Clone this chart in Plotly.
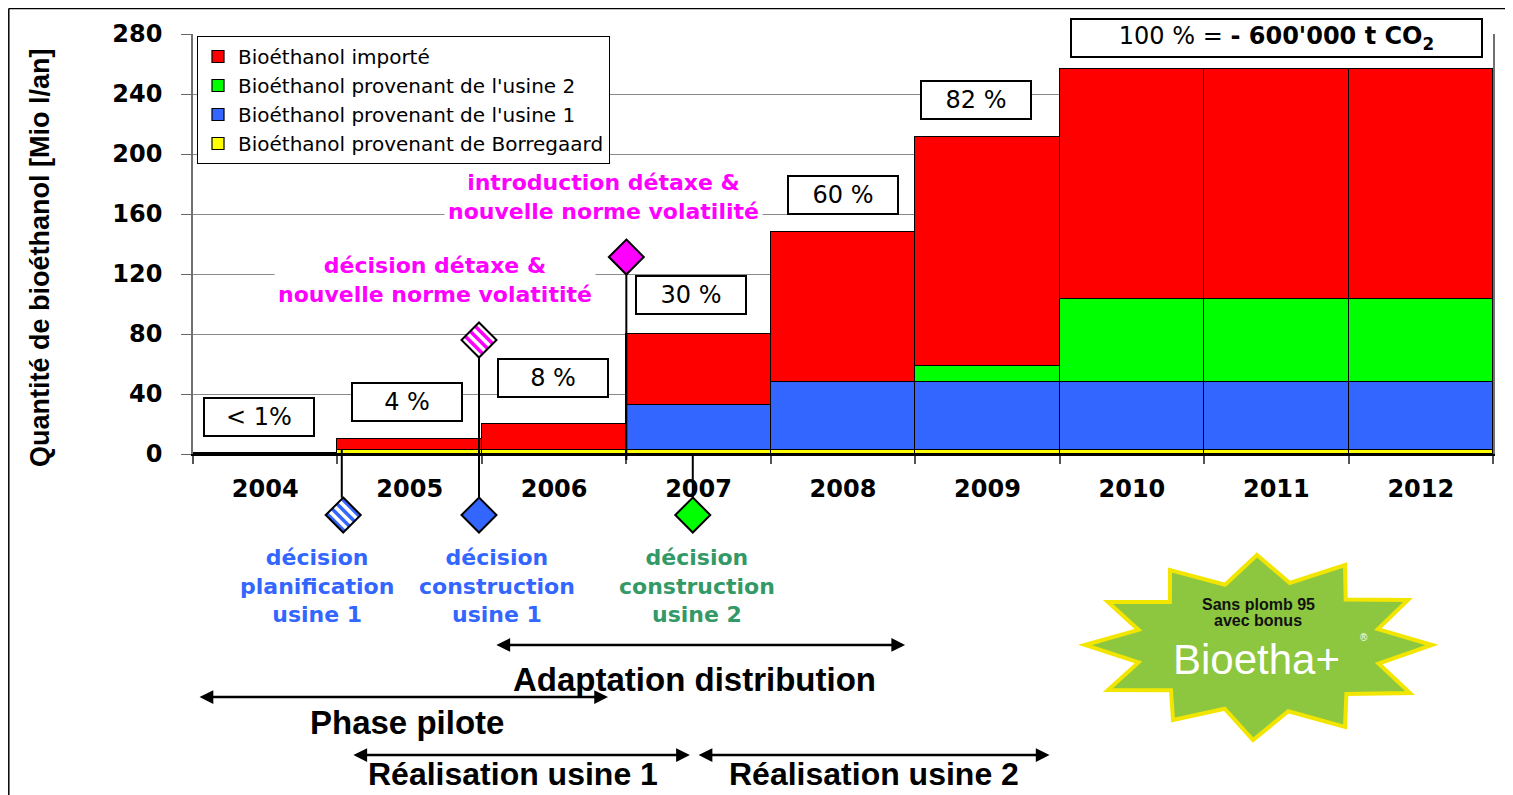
import plotly.graph_objects as go

# ---------------- data ----------------
years = [2004, 2005, 2006, 2007, 2008, 2009, 2010, 2011, 2012]
borregaard = [0.7, 3, 3, 3, 3, 3, 3, 3, 3]
usine1 = [None, None, None, 29.5, 45, 45, 45, 45, 45]
usine2 = [None, None, None, None, None, 10.5, 55.5, 55.5, 55.5]
importe = [None, 7, 17, 47.5, 100, 153, 153, 153, 153]

series = [
    ("Bioéthanol provenant de Borregaard", borregaard, "#FFFF00"),
    ("Bioéthanol provenant de l'usine 1", usine1, "#3366FF"),
    ("Bioéthanol provenant de l'usine 2", usine2, "#00FF00"),
    ("Bioéthanol importé", importe, "#FF0000"),
]

pct_labels = ["< 1%", "4 %", "8 %", "30 %", "60 %", "82 %"]
y_ticks = [0, 40, 80, 120, 160, 200, 240, 280]

# events (x in years, y in Mio l/an)
event_x = [2004.54, 2005.48, 2005.48, 2006.5, 2006.96]
event_y = [-40.7, 76, -40.7, 131.3, -40.7]
event_col = ["#3366FF", "#FF00FF", "#3366FF", "#FF00FF", "#00FF00"]
event_striped = [True, True, False, False, False]

# ---------------- geometry helpers ----------------
OFF = 8  # page body margin
X0, X1 = 2003.5, 2012.5
Y0, Y1 = 0, 280
W, H = 1505, 787
L_M, R_M, T_M, B_M = 185, 20, 26, 341
PW, PH = W - L_M - R_M, H - T_M - B_M


def xp(x):
    return (x - X0) / (X1 - X0)


def yp(y):
    return (y - Y0) / (Y1 - Y0)


def pxx(px):
    return (px - OFF - L_M) / PW


def pxy(py):
    return (H - B_M - (py - OFF)) / PH


fig = go.Figure()
for name, vals, col in series:
    fig.add_trace(go.Bar(
        x=years, y=vals, name=name, width=1,
        marker=dict(color=col, line=dict(color="black", width=1.2)),
    ))

shapes = []
annotations = []

# outer frame
shapes.append(dict(type="line", xref="paper", yref="paper", x0=pxx(8.8), x1=pxx(W + OFF), y0=pxy(8.6), y1=pxy(8.6),
                   line=dict(color="black", width=1.5)))
shapes.append(dict(type="line", xref="paper", yref="paper", x0=pxx(8.8), x1=pxx(8.8), y0=pxy(8.6), y1=pxy(H + OFF),
                   line=dict(color="black", width=1.5)))

# event vertical lines
d = 11.5
for x, ya, yb in [(2004.53, 3, -40.7 + d), (2005.48, 76 - d, -40.7 + d),
                  (2006.5, 131.3 - d, -4), (2006.96, 0, -40.7 + d)]:
    shapes.append(dict(type="line", xref="paper", yref="paper", x0=xp(x), x1=xp(x), y0=yp(ya), y1=yp(yb),
                       line=dict(color="black", width=2), layer="above"))


def diamond(x, y, color, striped, n=7, h=17.5):
    T, R, Lp = (0, h), (h, 0), (-h, 0)

    def P(a, b):
        return (T[0] + a * (Lp[0] - T[0]) + b * (R[0] - T[0]),
                T[1] + a * (Lp[1] - T[1]) + b * (R[1] - T[1]))

    base = dict(type="path", xref="paper", yref="paper", xsizemode="pixel", ysizemode="pixel",
                xanchor=xp(x), yanchor=yp(y), layer="above")
    out = []
    diam = f"M 0,{h} L {h},0 L 0,{-h} L {-h},0 Z"
    if not striped:
        out.append(dict(base, path=diam, fillcolor=color, line=dict(color="black", width=2)))
        return out
    out.append(dict(base, path=diam, fillcolor="white", line=dict(width=0)))
    colored = {0, 2, 4, 6} if color == "#3366FF" else {1, 3, 5}
    for k in range(n):
        if k not in colored:
            continue
        a0, a1 = k / n, (k + 1) / n
        pts = [P(a0, 0), P(a0, 1), P(a1, 1), P(a1, 0)]
        pth = "M " + " L ".join(f"{px:.2f},{py:.2f}" for px, py in pts) + " Z"
        out.append(dict(base, path=pth, fillcolor=color, line=dict(width=0)))
    out.append(dict(base, path=diam, fillcolor="rgba(0,0,0,0)", line=dict(color="black", width=2)))
    return out


for x, y, c, s in zip(event_x, event_y, event_col, event_striped):
    shapes += diamond(x, y, c, s)

# percentage boxes
pct_pos = [(2003.96, 24.7), (2004.98, 34.7), (2005.99, 50.7), (2006.95, 106), (2008.0, 172.7), (2008.92, 236)]
for lab, (x, y) in zip(pct_labels, pct_pos):
    annotations.append(dict(x=x, y=y, xref="x", yref="y", text=lab, showarrow=False,
                            font=dict(family="DejaVu Sans", size=24, color="black"),
                            bgcolor="white", bordercolor="black", borderwidth=2, borderpad=1,
                            width=106, height=34))
annotations.append(dict(x=2011.0, y=277.3, xref="x", yref="y",
                        text="100 % = <b>- 600'000 t CO<sub>2</sub></b>", showarrow=False,
                        font=dict(family="DejaVu Sans", size=24, color="black"),
                        bgcolor="white", bordercolor="black", borderwidth=2, borderpad=1,
                        width=407, height=34))

# magenta texts
mag = dict(family="DejaVu Sans", size=22, color="#FF00FF", weight="bold")
annotations.append(dict(x=2005.175, y=116, xref="x", yref="y", showarrow=False, bgcolor="white",
                        text="décision détaxe &<br>nouvelle norme volatitité", font=mag, borderpad=3))
annotations.append(dict(x=2006.345, y=171.3, xref="x", yref="y", showarrow=False, bgcolor="white",
                        text="introduction détaxe &<br>nouvelle norme volatilité", font=mag, borderpad=3))

# decision labels (below the axis -> paper coordinates)
for x, txt, col in [(2004.36, "décision<br>planification<br>usine 1", "#3366FF"),
                    (2005.605, "décision<br>construction<br>usine 1", "#3366FF"),
                    (2006.99, "décision<br>construction<br>usine 2", "#339966")]:
    annotations.append(dict(x=xp(x), y=yp(-88), xref="paper", yref="paper", showarrow=False, text=txt,
                            xanchor="center", yanchor="middle",
                            font=dict(family="DejaVu Sans", size=22, color=col, weight="bold")))

# phase arrows
for (xa, xb, ya) in [(2005.59, 2008.43, -127.3), (2003.535, 2006.373, -162),
                     (2004.60, 2006.94, -200.7), (2006.99, 2009.43, -200.7)]:
    annotations.append(dict(x=xp(xb), y=yp(ya), xref="paper", yref="paper",
                            ax=-(xb - xa) * PW / (X1 - X0), ay=0, axref="pixel", ayref="pixel",
                            text="", showarrow=True, arrowhead=2, arrowside="end+start",
                            arrowsize=1.1, arrowwidth=2.5, arrowcolor="black", standoff=0, startstandoff=0))
for x, y, txt, fs in [(2006.975, -150, "Adaptation distribution", 33), (2004.98, -178.7, "Phase pilote", 33),
                      (2005.715, -213.3, "Réalisation usine 1", 32), (2008.215, -213.3, "Réalisation usine 2", 32)]:
    annotations.append(dict(x=xp(x), y=yp(y), xref="paper", yref="paper", showarrow=False, text=txt,
                            xanchor="center", yanchor="middle",
                            font=dict(family="Liberation Sans", size=fs, color="black", weight="bold")))

# y-axis title
annotations.append(dict(x=pxx(40), y=pxy(258), xref="paper", yref="paper", showarrow=False, textangle=-90,
                        text="Quantité de bioéthanol [Mio l/an]", xanchor="center", yanchor="middle",
                        font=dict(family="Liberation Sans", size=27, color="black", weight="bold")))

# logo (Bioetha+ starburst)
outer = [(-1, 93), (87, 83), (150, 48), (174, 3), (152, -45), (87, -79), (-5, -92),
         (-85, -72), (-150, -42), (-173, 3), (-150, 46), (-88, 78)]
pts = []
for i, p in enumerate(outer):
    q = outer[(i + 1) % len(outer)]
    pts.append(p)
    pts.append(((p[0] + q[0]) / 2 * 0.74, (p[1] + q[1]) / 2 * 0.74))
star = "M " + " L ".join(f"{a:.1f},{b:.1f}" for a, b in pts) + " Z"
shapes.append(dict(type="path", xref="paper", yref="paper", xsizemode="pixel", ysizemode="pixel",
                   xanchor=pxx(1258), yanchor=pxy(648), path=star, fillcolor="#8DC63F",
                   line=dict(color="#F2E600", width=4), layer="above"))
for txt, yy in [("Sans plomb 95", 604), ("avec bonus", 620)]:
    annotations.append(dict(x=pxx(1258), y=pxy(yy), xref="paper", yref="paper", showarrow=False,
                            xanchor="center", yanchor="middle", text=txt,
                            font=dict(family="Liberation Sans", size=16, color="#111111", weight="bold")))
annotations.append(dict(x=pxx(1256), y=pxy(659), xref="paper", yref="paper", showarrow=False,
                        xanchor="center", yanchor="middle",
                        text="Bioetha+", font=dict(family="Liberation Sans", size=42, color="white")))
annotations.append(dict(x=pxx(1364), y=pxy(637), xref="paper", yref="paper", showarrow=False,
                        xanchor="center", yanchor="middle",
                        text="®", font=dict(family="Liberation Sans", size=10, color="white")))

fig.update_layout(
    width=W, height=H, autosize=False,
    margin=dict(l=L_M, r=R_M, t=T_M, b=B_M),
    paper_bgcolor="white", plot_bgcolor="white",
    barmode="stack", bargap=0,
    showlegend=True,
    legend=dict(x=pxx(197), y=pxy(36), xanchor="left", yanchor="top", traceorder="reversed",
                bgcolor="white", bordercolor="black", borderwidth=1,
                font=dict(family="DejaVu Sans", size=20, color="black"), tracegroupgap=0),
    xaxis=dict(range=[X0, X1], tickvals=years, ticktext=[str(y) for y in years], ticks="",
               tickfont=dict(family="DejaVu Sans", size=24, color="black", weight="bold"),
               ticklabelstandoff=12, showgrid=False, zeroline=False,
               showline=True, linecolor="black", linewidth=2,
               minor=dict(tickvals=[y - 0.5 for y in years] + [years[-1] + 0.5], ticks="outside",
                          ticklen=8, tickcolor="#555555", tickwidth=1.5, showgrid=False)),
    yaxis=dict(range=[Y0, Y1], tickvals=y_ticks, ticks="outside", ticklen=10, tickcolor="#666666",
               tickfont=dict(family="DejaVu Sans", size=24, color="black", weight="bold"),
               ticklabelstandoff=14, showgrid=True, gridcolor="#8a8a8a", gridwidth=1,
               zeroline=False, showline=True, linecolor="#707070", linewidth=1.5, mirror=True),
    shapes=shapes, annotations=annotations,
)

fig.write_html("out.html")
